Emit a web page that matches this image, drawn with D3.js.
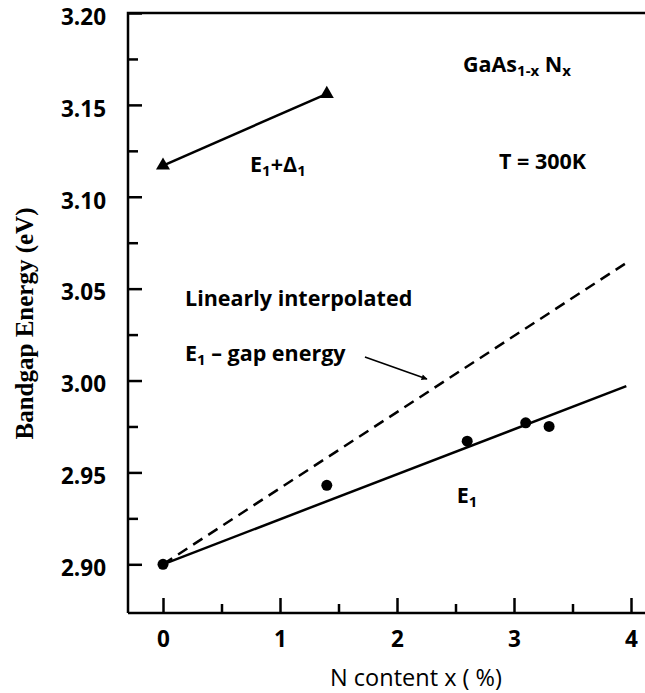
<!DOCTYPE html>
<html><head><meta charset="utf-8">
<script src="https://cdn.jsdelivr.net/npm/d3@7"></script>
<style>body{margin:0;background:#fff} svg{display:block}</style>
</head><body><svg id="c" width="645" height="693"></svg>
<script>
// ---- data ----
const nContent   = [0, 1.4, 2.6, 3.1, 3.3];
const e1Measured = [2.900, 2.943, 2.967, 2.977, 2.975];
const e1DeltaX   = [0, 1.4];
const e1DeltaY   = [3.117, 3.156];
const e1FitX     = [0, 3.96];
const e1FitY     = [2.900, 2.997];
const interpX    = [0, 3.96];
const interpY    = [2.900, 3.064];
const xTicks     = [0, 1, 2, 3, 4];
const xMinor     = [0.5, 1.5, 2.5, 3.5];
const yTicks     = [2.90, 2.95, 3.00, 3.05, 3.10, 3.15, 3.20];
const yMinor     = [2.925, 2.975, 3.025, 3.075, 3.125, 3.175];
const arrowFrom  = [1.726, 3.0128];
const arrowTo    = [2.256, 3.0008];

const svg = d3.select("#c");
const x = d3.scaleLinear().domain([0, 4]).range([163, 631]);
const y = d3.scaleLinear().domain([2.90, 3.20]).range([564.3, 13]);
const pLeft = 128, pTop = 13, pBottom = 613, pRight = 645;
const sans = "'Open Sans', Lato, sans-serif";

// defs
svg.append("defs").append("marker").attr("id","ah").attr("viewBox","0 0 10 10")
  .attr("refX",9).attr("refY",5).attr("markerWidth",7).attr("markerHeight",6)
  .attr("markerUnits","userSpaceOnUse").attr("orient","auto")
  .append("path").attr("d","M0,0L10,5L0,10Z").attr("fill","#000");

// axes ticks
const yAx = svg.append("g").attr("transform",`translate(${pLeft},0)`)
  .call(d3.axisLeft(y).tickValues(yTicks).tickSize(-14).tickPadding(22).tickFormat(d3.format(".2f")));
const yAxm = svg.append("g").attr("transform",`translate(${pLeft},0)`)
  .call(d3.axisLeft(y).tickValues(yMinor).tickSize(-10).tickFormat(""));
const xAx = svg.append("g").attr("transform",`translate(0,${pBottom})`)
  .call(d3.axisBottom(x).tickValues(xTicks).tickSize(-15).tickPadding(18).tickFormat(d3.format("d")));
const xAxm = svg.append("g").attr("transform",`translate(0,${pBottom})`)
  .call(d3.axisBottom(x).tickValues(xMinor).tickSize(-9).tickFormat(""));
[yAx,yAxm,xAx,xAxm].forEach(g=>{
  g.select(".domain").remove();
  g.selectAll("line").attr("stroke","#000").attr("stroke-width",2.5);
  g.selectAll("text").attr("font-family",sans).attr("font-weight","bold")
   .attr("font-size",22.5).attr("fill","#000");
});
yAx.selectAll("text").attr("dy","0.5em");

// spines
svg.append("path").attr("d",`M${pLeft},${pBottom}V${pTop}H${pRight}`).attr("fill","none")
  .attr("stroke","#000").attr("stroke-width",2.5);
svg.append("path").attr("d",`M${pLeft},${pBottom}H${pRight}`).attr("fill","none")
  .attr("stroke","#000").attr("stroke-width",2.5);

// lines
const line = d3.line().x(d=>x(d[0])).y(d=>y(d[1]));
svg.append("path").attr("d",line(d3.zip(interpX,interpY))).attr("fill","none")
  .attr("stroke","#000").attr("stroke-width",2.5).attr("stroke-dasharray","11,7");
svg.append("path").attr("d",line(d3.zip(e1FitX,e1FitY))).attr("fill","none")
  .attr("stroke","#000").attr("stroke-width",2.5);
svg.append("path").attr("d",line(d3.zip(e1DeltaX,e1DeltaY))).attr("fill","none")
  .attr("stroke","#000").attr("stroke-width",2.5);

// points
svg.selectAll("circle.e1").data(d3.zip(nContent,e1Measured)).join("circle")
  .attr("cx",d=>x(d[0])).attr("cy",d=>y(d[1])).attr("r",5.5).attr("fill","#000");
svg.selectAll("path.tri").data(d3.zip(e1DeltaX,e1DeltaY)).join("path").attr("class","tri")
  .attr("transform",d=>`translate(${x(d[0])},${y(d[1])})`)
  .attr("d",d3.symbol(d3.symbolTriangle,85)).attr("fill","#000");

// annotation arrow
svg.append("line").attr("x1",x(arrowFrom[0])).attr("y1",y(arrowFrom[1]))
  .attr("x2",x(arrowTo[0])).attr("y2",y(arrowTo[1]))
  .attr("stroke","#000").attr("stroke-width",1.6).attr("marker-end","url(#ah)");

// text helpers
function label(xv, yv, parts){
  const t = svg.append("text").attr("x",x(xv)).attr("y",y(yv))
    .attr("font-family",sans).attr("font-weight","bold").attr("font-size",21.5).attr("fill","#000");
  parts.forEach(p=>{
    const s = t.append("tspan").text(p[0]);
    if(p[1]==="sub") s.attr("font-size",15).attr("dy",4);
    if(p[1]==="up") s.attr("dy",-4);
  });
  return t;
}
label(2.564, 3.168, [["GaAs"],["1-x","sub"],[" N","up"],["x","sub"]]);
label(2.872, 3.115, [["T = 300K"]]);
label(0.744, 3.1137, [["E"],["1","sub"],["+Δ","up"],["1","sub"]]);
label(0.188, 3.0406, [["Linearly interpolated"]]);
label(0.188, 3.0108, [["E"],["1","sub"],[" – gap energy","up"]]);
label(2.51, 2.9335, [["E"],["1","sub"]]);

// axis titles
svg.append("text").attr("x",416).attr("y",686).attr("text-anchor","middle")
  .attr("font-family",sans).attr("font-size",23.5).attr("fill","#000").text("N content x ( %)");
svg.append("text").attr("transform","translate(33,323.5) rotate(-90)").attr("text-anchor","middle")
  .attr("font-family","'Liberation Serif', 'Times New Roman', serif").attr("font-weight","bold")
  .attr("font-size",25).attr("fill","#000").text("Bandgap Energy (eV)");
</script></body></html>
